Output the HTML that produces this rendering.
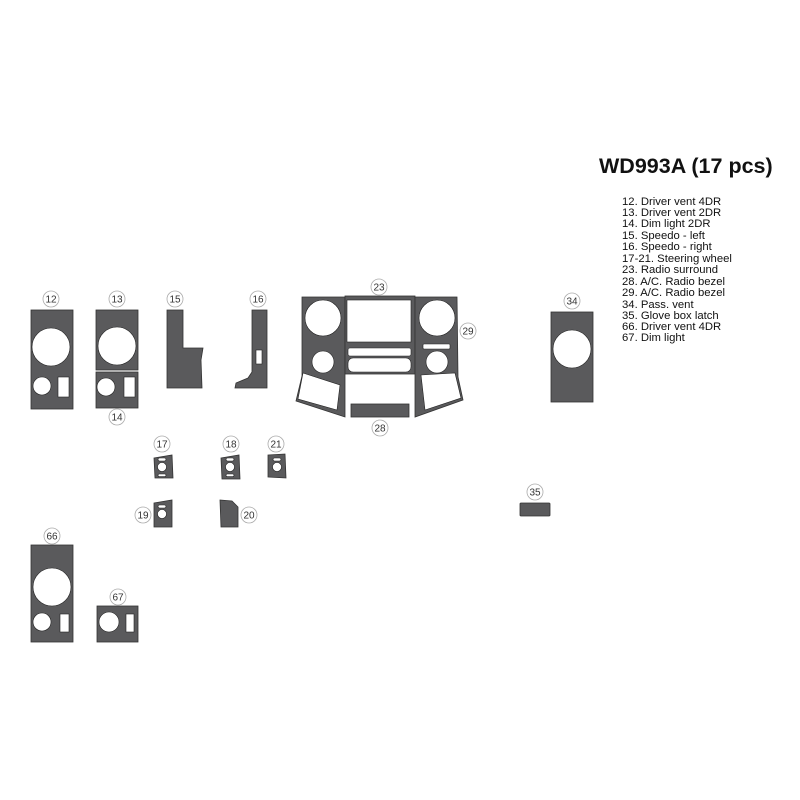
<!DOCTYPE html>
<html><head><meta charset="utf-8"><style>
html,body{margin:0;padding:0;background:#fff;}
svg{display:block}
.d{fill:#5a5a5c;stroke:#333;stroke-width:0.8}
.w{fill:#fff;stroke:#222;stroke-width:0.6}
.lc{fill:#fff;stroke:#aaa;stroke-width:0.8}
.lt{font-family:"Liberation Sans",sans-serif;font-size:10px;fill:#333;text-anchor:middle}
.li{font-family:"Liberation Sans",sans-serif;font-size:11.3px;fill:#111}
</style></head><body>
<svg width="800" height="800" viewBox="0 0 800 800" xmlns="http://www.w3.org/2000/svg">
<text x="599" y="173" font-family="Liberation Sans,sans-serif" font-weight="bold" font-size="21.5" fill="#111">WD993A (17 pcs)</text>
<g class="li">
<text x="622" y="205">12. Driver vent 4DR</text>
<text x="622" y="216">13. Driver vent 2DR</text>
<text x="622" y="227">14. Dim light 2DR</text>
<text x="622" y="239">15. Speedo - left</text>
<text x="622" y="250">16. Speedo - right</text>
<text x="622" y="262">17-21. Steering wheel</text>
<text x="622" y="273">23. Radio surround</text>
<text x="622" y="285">28. A/C. Radio bezel</text>
<text x="622" y="296">29. A/C. Radio bezel</text>
<text x="622" y="308">34. Pass. vent</text>
<text x="622" y="319">35. Glove box latch</text>
<text x="622" y="330">66. Driver vent 4DR</text>
<text x="622" y="341">67. Dim light</text>
</g>

<!-- 12 -->
<rect class="d" x="31" y="310" width="42" height="99"/>
<circle class="w" cx="51" cy="347" r="19"/>
<circle class="w" cx="42" cy="386" r="9"/>
<rect class="w" x="58" y="377" width="11" height="20"/>
<!-- 13 / 14 -->
<rect class="d" x="96" y="310" width="42" height="60"/>
<circle class="w" cx="117" cy="346" r="19"/>
<rect class="d" x="96" y="372" width="42" height="36"/>
<circle class="w" cx="106" cy="387" r="9"/>
<rect class="w" x="124" y="377" width="11" height="20"/>
<!-- 15 -->
<polygon class="d" points="167,310 183,310 183,348 203,348 201,360 202,388 167,388"/>
<!-- 16 -->
<polygon class="d" points="252,310 267,310 267,388 235,388 236,383 248,378 252,372"/>
<rect class="w" x="256" y="350" width="6" height="14"/>
<!-- 23 left -->
<polygon class="d" points="302,297 345,297 345,417 296,401 302,376"/>
<circle class="w" cx="323" cy="318" r="18"/>
<circle class="w" cx="323" cy="362" r="11"/>
<polygon class="w" points="303,373 340,385 337,410 298,399"/>
<!-- center -->
<rect class="d" x="345" y="296" width="70" height="78"/>
<rect class="w" x="347" y="300" width="64" height="42"/>
<rect class="w" x="348" y="348" width="63" height="8" rx="2"/>
<rect class="w" x="348" y="358" width="63" height="14" rx="5"/>
<!-- right -->
<polygon class="d" points="415,297 457,297 458,377 463,400 415,417"/>
<circle class="w" cx="437" cy="318" r="18"/>
<rect class="w" x="423" y="344" width="27" height="5" rx="1"/>
<circle class="w" cx="437" cy="362" r="11"/>
<polygon class="w" points="421,375 455,373 461,398 425,410"/>
<!-- 28 -->
<rect class="d" x="351" y="404" width="58" height="13"/>
<!-- 34 -->
<rect class="d" x="551" y="312" width="42" height="90"/>
<circle class="w" cx="572" cy="349" r="19"/>
<!-- 35 -->
<rect class="d" x="520" y="503" width="30" height="13" rx="1"/>
<!-- steering -->
<g>
<path class="d" d="M154,458 L172,455 L173,478 L155,478 Z"/>
<circle class="w" cx="162" cy="467" r="4.5"/><rect class="w" x="158" y="458" width="8" height="3" rx="1.5"/><rect class="w" x="158" y="474" width="8" height="2.5" rx="1.2"/>
<path class="d" d="M221,458 L239,455 L240,479 L222,479 Z"/>
<circle class="w" cx="230" cy="467" r="4.5"/><rect class="w" x="226" y="458" width="8" height="3" rx="1.5"/><rect class="w" x="226" y="474" width="8" height="2.5" rx="1.2"/>
<path class="d" d="M268,455 L285,454 L286,478 L268,477 Z"/>
<circle class="w" cx="277" cy="467" r="4.5"/><rect class="w" x="273" y="458" width="8" height="3" rx="1.5"/>
<path class="d" d="M154,503 L172,500 L172,527 L154,527 Z"/>
<circle class="w" cx="162" cy="514" r="4.5"/><rect class="w" x="158" y="505" width="8" height="3" rx="1.5"/>
<path class="d" d="M220,500 L232,501 L238,507 L238,527 L221,527 Z"/>
</g>
<!-- 66 -->
<rect class="d" x="31" y="545" width="42" height="97"/>
<circle class="w" cx="52" cy="587" r="19"/>
<circle class="w" cx="42" cy="622" r="9"/>
<rect class="w" x="60" y="614" width="9" height="18"/>
<!-- 67 -->
<rect class="d" x="97" y="606" width="41" height="36"/>
<circle class="w" cx="109" cy="622" r="10"/>
<rect class="w" x="126" y="614" width="8" height="18"/>

<!-- labels -->
<g>
<circle class="lc" cx="51" cy="299" r="8"/><text class="lt" x="51" y="302.5">12</text>
<circle class="lc" cx="117" cy="299" r="8"/><text class="lt" x="117" y="302.5">13</text>
<circle class="lc" cx="117" cy="417" r="8"/><text class="lt" x="117" y="420.5">14</text>
<circle class="lc" cx="175" cy="299" r="8"/><text class="lt" x="175" y="302.5">15</text>
<circle class="lc" cx="258" cy="299" r="8"/><text class="lt" x="258" y="302.5">16</text>
<circle class="lc" cx="379" cy="287" r="8"/><text class="lt" x="379" y="290.5">23</text>
<circle class="lc" cx="468" cy="331" r="8"/><text class="lt" x="468" y="334.5">29</text>
<circle class="lc" cx="380" cy="428" r="8"/><text class="lt" x="380" y="431.5">28</text>
<circle class="lc" cx="572" cy="301" r="8"/><text class="lt" x="572" y="304.5">34</text>
<circle class="lc" cx="535" cy="492" r="8"/><text class="lt" x="535" y="495.5">35</text>
<circle class="lc" cx="162" cy="444" r="8"/><text class="lt" x="162" y="447.5">17</text>
<circle class="lc" cx="231" cy="444" r="8"/><text class="lt" x="231" y="447.5">18</text>
<circle class="lc" cx="276" cy="444" r="8"/><text class="lt" x="276" y="447.5">21</text>
<circle class="lc" cx="143" cy="515" r="8"/><text class="lt" x="143" y="518.5">19</text>
<circle class="lc" cx="249" cy="515" r="8"/><text class="lt" x="249" y="518.5">20</text>
<circle class="lc" cx="52" cy="536" r="8"/><text class="lt" x="52" y="539.5">66</text>
<circle class="lc" cx="118" cy="597" r="8"/><text class="lt" x="118" y="600.5">67</text>
</g>
</svg>
</body></html>
